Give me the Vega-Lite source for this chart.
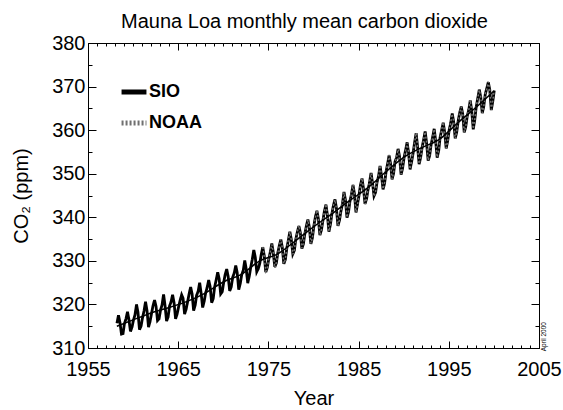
{
"$schema": "https://vega.github.io/schema/vega-lite/v6.json",
"width": 451, "height": 305,
"autosize": {"type": "none"},
"padding": {"left": 88, "top": 43, "right": 24, "bottom": 62},
"background": "white",
"config": {"font": "Liberation Sans", "view": {"stroke": "black", "strokeWidth": 1}, "axis": {"grid": false, "domain": false, "labelFont": "Liberation Sans", "labelColor": "black", "tickColor": "black", "titleColor": "black", "tickWidth": 1}},
"title": {"text": "Mauna Loa monthly mean carbon dioxide", "fontSize": 20, "fontWeight": "normal", "font": "Liberation Sans", "offset": 1, "dx": -9, "color": "black"},
"datasets": {
"sio": [
{"t":1958.21,"v":315.7},{"t":1958.38,"v":317.5},{"t":1958.54,"v":315.9},{"t":1958.71,"v":313.2},{"t":1958.88,"v":313.3},
{"t":1959.04,"v":315.6},{"t":1959.21,"v":316.7},{"t":1959.38,"v":318.3},{"t":1959.54,"v":316.5},{"t":1959.71,"v":313.8},{"t":1959.88,"v":314.8},
{"t":1960.04,"v":316.4},{"t":1960.21,"v":317.6},{"t":1960.38,"v":320.0},{"t":1960.54,"v":318.2},{"t":1960.71,"v":314.2},{"t":1960.88,"v":315.0},
{"t":1961.04,"v":316.9},{"t":1961.21,"v":318.5},{"t":1961.38,"v":320.6},{"t":1961.54,"v":318.6},{"t":1961.71,"v":314.8},{"t":1961.88,"v":316.1},
{"t":1962.04,"v":317.9},{"t":1962.21,"v":319.7},{"t":1962.38,"v":321.0},{"t":1962.54,"v":319.6},{"t":1962.71,"v":316.3},{"t":1962.88,"v":316.7},
{"t":1963.04,"v":318.7},{"t":1963.21,"v":319.9},{"t":1963.38,"v":322.3},{"t":1963.54,"v":319.7},{"t":1963.71,"v":316.2},{"t":1963.88,"v":317.1},
{"t":1964.04,"v":319.6},{"t":1964.21,"v":320.6},{"t":1964.38,"v":322.2},{"t":1964.54,"v":320.4},{"t":1964.71,"v":316.7},{"t":1964.88,"v":317.8},
{"t":1965.04,"v":319.4},{"t":1965.21,"v":320.9},{"t":1965.38,"v":322.2},{"t":1965.54,"v":321.4},{"t":1965.71,"v":317.8},{"t":1965.88,"v":318.9},
{"t":1966.04,"v":320.6},{"t":1966.21,"v":322.4},{"t":1966.38,"v":324.0},{"t":1966.54,"v":322.4},{"t":1966.71,"v":318.6},{"t":1966.88,"v":319.8},
{"t":1967.04,"v":322.1},{"t":1967.21,"v":323.0},{"t":1967.38,"v":325.0},{"t":1967.54,"v":322.6},{"t":1967.71,"v":319.3},{"t":1967.88,"v":320.7},
{"t":1968.04,"v":322.6},{"t":1968.21,"v":323.9},{"t":1968.38,"v":325.6},{"t":1968.54,"v":324.1},{"t":1968.71,"v":320.4},{"t":1968.88,"v":321.3},
{"t":1969.04,"v":324.0},{"t":1969.21,"v":325.6},{"t":1969.38,"v":327.4},{"t":1969.54,"v":325.9},{"t":1969.71,"v":322.4},{"t":1969.88,"v":322.9},
{"t":1970.04,"v":325.0},{"t":1970.21,"v":326.9},{"t":1970.38,"v":328.1},{"t":1970.54,"v":326.4},{"t":1970.71,"v":323.1},{"t":1970.88,"v":324.0},
{"t":1971.04,"v":326.2},{"t":1971.21,"v":327.2},{"t":1971.38,"v":328.9},{"t":1971.54,"v":327.3},{"t":1971.71,"v":323.4},{"t":1971.88,"v":324.8},
{"t":1972.04,"v":326.8},{"t":1972.21,"v":327.8},{"t":1972.38,"v":330.1},{"t":1972.54,"v":328.1},{"t":1972.71,"v":324.9},{"t":1972.88,"v":326.5},
{"t":1973.04,"v":328.5},{"t":1973.21,"v":330.3},{"t":1973.38,"v":332.5},{"t":1973.54,"v":330.9},{"t":1973.71,"v":327.5},{"t":1973.88,"v":328.2},
{"t":1974.04,"v":329.4},{"t":1974.21,"v":331.5},{"t":1974.38,"v":333.1},{"t":1974.54,"v":331.2},{"t":1974.71,"v":327.4},{"t":1974.88,"v":328.5},
{"t":1975.04,"v":330.4},{"t":1975.21,"v":332.0},{"t":1975.38,"v":334.0},{"t":1975.54,"v":331.9},{"t":1975.71,"v":328.6},{"t":1975.88,"v":329.5},
{"t":1976.04,"v":331.8},{"t":1976.21,"v":333.5},{"t":1976.38,"v":334.9},{"t":1976.54,"v":333.1},{"t":1976.71,"v":329.3},{"t":1976.88,"v":330.3},
{"t":1977.04,"v":332.9},{"t":1977.21,"v":334.7},{"t":1977.38,"v":336.7},{"t":1977.54,"v":334.9},{"t":1977.71,"v":331.6},{"t":1977.88,"v":332.4},
{"t":1978.04,"v":335.0},{"t":1978.21,"v":336.6},{"t":1978.38,"v":338.0},{"t":1978.54,"v":336.5},{"t":1978.71,"v":332.8},{"t":1978.88,"v":333.9},
{"t":1979.04,"v":336.2},{"t":1979.21,"v":338.0},{"t":1979.38,"v":339.5},{"t":1979.54,"v":337.7},{"t":1979.71,"v":333.9},{"t":1979.88,"v":335.3},
{"t":1980.04,"v":338.0},{"t":1980.21,"v":340.1},{"t":1980.38,"v":341.5},{"t":1980.54,"v":339.6},{"t":1980.71,"v":335.9},{"t":1980.88,"v":337.1},
{"t":1981.04,"v":339.2},{"t":1981.21,"v":341.4},{"t":1981.38,"v":342.9},{"t":1981.54,"v":340.5},{"t":1981.71,"v":336.7},{"t":1981.88,"v":338.4},
{"t":1982.04,"v":340.8},{"t":1982.21,"v":342.7},{"t":1982.38,"v":344.1},{"t":1982.54,"v":342.1},{"t":1982.71,"v":338.0},{"t":1982.88,"v":339.3},
{"t":1983.04,"v":341.4},{"t":1983.21,"v":343.1},{"t":1983.38,"v":345.8},{"t":1983.54,"v":344.0},{"t":1983.71,"v":339.9},{"t":1983.88,"v":341.2},
{"t":1984.04,"v":343.7},{"t":1984.21,"v":345.3},{"t":1984.38,"v":347.4},{"t":1984.54,"v":345.4},{"t":1984.71,"v":341.1},{"t":1984.88,"v":343.0},
{"t":1985.04,"v":345.0},{"t":1985.21,"v":347.4},{"t":1985.38,"v":348.9},{"t":1985.54,"v":346.6},{"t":1985.71,"v":343.1},{"t":1985.88,"v":344.2},
{"t":1986.04,"v":346.3},{"t":1986.21,"v":347.9},{"t":1986.38,"v":350.2},{"t":1986.54,"v":347.9},{"t":1986.71,"v":344.9},{"t":1986.88,"v":345.7},
{"t":1987.04,"v":348.0},{"t":1987.21,"v":349.4},{"t":1987.38,"v":351.8},{"t":1987.54,"v":349.5},{"t":1987.71,"v":346.4},{"t":1987.88,"v":347.8},
{"t":1988.04,"v":350.4},{"t":1988.21,"v":352.2},{"t":1988.38,"v":354.2},{"t":1988.54,"v":352.4},{"t":1988.71,"v":348.7},{"t":1988.88,"v":350.1},
{"t":1989.04,"v":352.8},{"t":1989.21,"v":353.7},{"t":1989.38,"v":355.7},{"t":1989.54,"v":353.9},{"t":1989.71,"v":349.8},{"t":1989.88,"v":351.3},
{"t":1990.04,"v":353.7},{"t":1990.21,"v":355.4},{"t":1990.38,"v":357.2},{"t":1990.54,"v":354.8},{"t":1990.71,"v":351.0},{"t":1990.88,"v":352.8},
{"t":1991.04,"v":354.7},{"t":1991.21,"v":357.2},{"t":1991.38,"v":359.3},{"t":1991.54,"v":356.2},{"t":1991.71,"v":352.2},{"t":1991.88,"v":353.8},
{"t":1992.04,"v":356.0},{"t":1992.21,"v":357.8},{"t":1992.38,"v":359.7},{"t":1992.54,"v":357.0},{"t":1992.71,"v":353.0},{"t":1992.88,"v":354.2},
{"t":1993.04,"v":356.7},{"t":1993.21,"v":358.4},{"t":1993.38,"v":360.3},{"t":1993.54,"v":357.6},{"t":1993.71,"v":353.7},{"t":1993.88,"v":355.3},
{"t":1994.04,"v":358.4},{"t":1994.21,"v":360.0},{"t":1994.38,"v":361.7},{"t":1994.54,"v":359.6},{"t":1994.71,"v":355.8},{"t":1994.88,"v":357.6},
{"t":1995.04,"v":360.0},{"t":1995.21,"v":361.6},{"t":1995.38,"v":363.8},{"t":1995.54,"v":361.9},{"t":1995.71,"v":358.1},{"t":1995.88,"v":359.6},
{"t":1996.04,"v":362.1},{"t":1996.21,"v":364.0},{"t":1996.38,"v":365.4},{"t":1996.54,"v":363.7},{"t":1996.71,"v":359.5},{"t":1996.88,"v":360.8},
{"t":1997.04,"v":363.2},{"t":1997.21,"v":364.6},{"t":1997.38,"v":366.8},{"t":1997.54,"v":364.5},{"t":1997.71,"v":360.2},{"t":1997.88,"v":362.4},
{"t":1998.04,"v":365.3},{"t":1998.21,"v":367.3},{"t":1998.38,"v":369.3},{"t":1998.54,"v":367.6},{"t":1998.71,"v":363.9},{"t":1998.88,"v":365.5},
{"t":1999.04,"v":368.2},{"t":1999.21,"v":369.6},{"t":1999.38,"v":371.0},{"t":1999.54,"v":369.3},{"t":1999.71,"v":364.6},{"t":1999.88,"v":366.7},
{"t":2000.04,"v":369.1}
],
"noaa": [
{"t":1974.38,"v":333.2},{"t":1974.54,"v":331.0},{"t":1974.71,"v":327.6},{"t":1974.88,"v":328.4},
{"t":1975.04,"v":330.5},{"t":1975.21,"v":332.1},{"t":1975.38,"v":333.8},{"t":1975.54,"v":332.0},{"t":1975.71,"v":328.4},{"t":1975.88,"v":329.6},
{"t":1976.04,"v":331.7},{"t":1976.21,"v":333.4},{"t":1976.38,"v":335.0},{"t":1976.54,"v":333.0},{"t":1976.71,"v":329.4},{"t":1976.88,"v":330.4},
{"t":1977.04,"v":333.0},{"t":1977.21,"v":334.8},{"t":1977.38,"v":336.6},{"t":1977.54,"v":334.8},{"t":1977.71,"v":331.5},{"t":1977.88,"v":332.5},
{"t":1978.04,"v":334.9},{"t":1978.21,"v":336.7},{"t":1978.38,"v":338.1},{"t":1978.54,"v":336.4},{"t":1978.71,"v":332.9},{"t":1978.88,"v":334.0},
{"t":1979.04,"v":336.3},{"t":1979.21,"v":337.9},{"t":1979.38,"v":339.4},{"t":1979.54,"v":337.8},{"t":1979.71,"v":334.0},{"t":1979.88,"v":335.2},
{"t":1980.04,"v":338.1},{"t":1980.21,"v":340.0},{"t":1980.38,"v":341.6},{"t":1980.54,"v":339.5},{"t":1980.71,"v":336.0},{"t":1980.88,"v":337.2},
{"t":1981.04,"v":339.3},{"t":1981.21,"v":341.3},{"t":1981.38,"v":343.0},{"t":1981.54,"v":340.6},{"t":1981.71,"v":336.8},{"t":1981.88,"v":338.3},
{"t":1982.04,"v":340.7},{"t":1982.21,"v":342.8},{"t":1982.38,"v":344.0},{"t":1982.54,"v":342.0},{"t":1982.71,"v":338.1},{"t":1982.88,"v":339.4},
{"t":1983.04,"v":341.5},{"t":1983.21,"v":343.2},{"t":1983.38,"v":345.7},{"t":1983.54,"v":343.9},{"t":1983.71,"v":340.0},{"t":1983.88,"v":341.3},
{"t":1984.04,"v":343.6},{"t":1984.21,"v":345.4},{"t":1984.38,"v":347.5},{"t":1984.54,"v":345.3},{"t":1984.71,"v":341.2},{"t":1984.88,"v":342.9},
{"t":1985.04,"v":345.1},{"t":1985.21,"v":347.3},{"t":1985.38,"v":349.0},{"t":1985.54,"v":346.5},{"t":1985.71,"v":343.0},{"t":1985.88,"v":344.3},
{"t":1986.04,"v":346.2},{"t":1986.21,"v":348.0},{"t":1986.38,"v":350.1},{"t":1986.54,"v":348.0},{"t":1986.71,"v":344.8},{"t":1986.88,"v":345.8},
{"t":1987.04,"v":348.1},{"t":1987.21,"v":349.5},{"t":1987.38,"v":351.9},{"t":1987.54,"v":349.4},{"t":1987.71,"v":346.5},{"t":1987.88,"v":347.9},
{"t":1988.04,"v":350.5},{"t":1988.21,"v":352.1},{"t":1988.38,"v":354.3},{"t":1988.54,"v":352.3},{"t":1988.71,"v":348.8},{"t":1988.88,"v":350.2},
{"t":1989.04,"v":352.7},{"t":1989.21,"v":353.8},{"t":1989.38,"v":355.6},{"t":1989.54,"v":353.8},{"t":1989.71,"v":349.9},{"t":1989.88,"v":351.4},
{"t":1990.04,"v":353.8},{"t":1990.21,"v":355.3},{"t":1990.38,"v":357.1},{"t":1990.54,"v":354.9},{"t":1990.71,"v":351.1},{"t":1990.88,"v":352.9},
{"t":1991.04,"v":354.8},{"t":1991.21,"v":357.1},{"t":1991.38,"v":359.4},{"t":1991.54,"v":356.1},{"t":1991.71,"v":352.3},{"t":1991.88,"v":353.7},
{"t":1992.04,"v":355.9},{"t":1992.21,"v":357.9},{"t":1992.38,"v":359.6},{"t":1992.54,"v":357.1},{"t":1992.71,"v":353.1},{"t":1992.88,"v":354.3},
{"t":1993.04,"v":356.8},{"t":1993.21,"v":358.3},{"t":1993.38,"v":360.2},{"t":1993.54,"v":357.7},{"t":1993.71,"v":353.8},{"t":1993.88,"v":355.4},
{"t":1994.04,"v":358.3},{"t":1994.21,"v":360.1},{"t":1994.38,"v":361.8},{"t":1994.54,"v":359.5},{"t":1994.71,"v":355.9},{"t":1994.88,"v":357.5},
{"t":1995.04,"v":360.1},{"t":1995.21,"v":361.7},{"t":1995.38,"v":363.7},{"t":1995.54,"v":362.0},{"t":1995.71,"v":358.0},{"t":1995.88,"v":359.7},
{"t":1996.04,"v":362.0},{"t":1996.21,"v":364.1},{"t":1996.38,"v":365.3},{"t":1996.54,"v":363.6},{"t":1996.71,"v":359.6},{"t":1996.88,"v":360.9},
{"t":1997.04,"v":363.3},{"t":1997.21,"v":364.5},{"t":1997.38,"v":366.9},{"t":1997.54,"v":364.4},{"t":1997.71,"v":360.3},{"t":1997.88,"v":362.5},
{"t":1998.04,"v":365.2},{"t":1998.21,"v":367.4},{"t":1998.38,"v":369.2},{"t":1998.54,"v":367.7},{"t":1998.71,"v":364.0},{"t":1998.88,"v":365.4},
{"t":1999.04,"v":368.3},{"t":1999.21,"v":369.5},{"t":1999.38,"v":371.1},{"t":1999.54,"v":369.2},{"t":1999.71,"v":364.7},{"t":1999.88,"v":366.8},
{"t":2000.04,"v":369.2}
],
"trend": [
{"t":1958.2,"v":315.0},{"t":1960,"v":316.45},{"t":1962,"v":318.05},{"t":1964,"v":319.3},{"t":1966,"v":320.7},{"t":1968,"v":322.6},{"t":1970,"v":325.15},{"t":1972,"v":326.9},{"t":1974,"v":329.95},{"t":1976,"v":331.55},{"t":1978,"v":334.6},{"t":1980,"v":337.8},{"t":1982,"v":340.75},{"t":1984,"v":343.8},{"t":1986,"v":346.75},{"t":1988,"v":350.4},{"t":1990,"v":353.75},{"t":1992,"v":356.0},{"t":1994,"v":357.95},{"t":1996,"v":361.7},{"t":1998,"v":365.2},{"t":2000,"v":369.0}
],
"note": [{"s": "April 2000"}]
},
"layer": [
{
"data": {"name": "sio"},
"mark": {"type": "line", "strokeWidth": 2.8},
"encoding": {
"x": {"field": "t", "type": "quantitative", "scale": {"domain": [1955, 2005], "nice": false, "zero": false},
 "axis": {"orient": "bottom", "values": [1955, 1965, 1975, 1985, 1995, 2005], "format": "d", "tickSize": -7, "labelPadding": 18, "labelFontSize": 20, "labelFlush": false, "title": "Year", "titleFontSize": 20, "titleFontWeight": "normal", "titlePadding": 9}},
"y": {"field": "v", "type": "quantitative", "scale": {"domain": [310, 380], "nice": false, "zero": false},
 "axis": {"orient": "left", "values": [310, 320, 330, 340, 350, 360, 370, 380], "tickSize": -8, "labelPadding": 11, "labelFontSize": 20, "labelFlush": false, "title": "CO₂ (ppm)", "titleFontSize": 20, "titleFontWeight": "normal", "titlePadding": 20}},
"color": {"datum": "SIO", "scale": {"domain": ["SIO", "NOAA"], "range": ["#000000", "#707070"]},
 "legend": {"title": null, "orient": "none", "legendX": 31, "legendY": 34, "padding": 0, "symbolType": "stroke", "symbolSize": 620, "symbolStrokeWidth": 5, "labelFontSize": 18, "labelFontWeight": "bold", "labelFont": "Liberation Sans", "labelColor": "black", "rowPadding": 6, "labelOffset": 0}},
"strokeDash": {"datum": "SIO", "scale": {"domain": ["SIO", "NOAA"], "range": [[1, 0], [2, 2]]},
 "legend": {"title": null, "orient": "none", "legendX": 31, "legendY": 34, "padding": 0, "symbolType": "stroke", "symbolSize": 620, "symbolStrokeWidth": 5, "labelFontSize": 18, "labelFontWeight": "bold", "labelFont": "Liberation Sans", "labelColor": "black", "rowPadding": 6, "labelOffset": 0}}
}
},
{
"data": {"name": "noaa"},
"mark": {"type": "line", "strokeWidth": 1.5},
"encoding": {
"x": {"field": "t", "type": "quantitative",
 "axis": {"orient": "bottom", "values": [1955,1956,1957,1958,1959,1960,1961,1962,1963,1964,1965,1966,1967,1968,1969,1970,1971,1972,1973,1974,1975,1976,1977,1978,1979,1980,1981,1982,1983,1984,1985,1986,1987,1988,1989,1990,1991,1992,1993,1994,1995,1996,1997,1998,1999,2000,2001,2002,2003,2004,2005], "tickSize": -3, "labels": false, "title": null}},
"y": {"field": "v", "type": "quantitative",
 "axis": {"orient": "left", "values": [315, 325, 335, 345, 355, 365, 375], "tickSize": -4, "labels": false, "title": null}},
"color": {"datum": "NOAA"},
"strokeDash": {"datum": "NOAA"}
}
},
{
"data": {"name": "trend"},
"mark": {"type": "line", "strokeWidth": 1.5, "color": "black", "interpolate": "monotone"},
"encoding": {
"x": {"field": "t", "type": "quantitative",
 "axis": {"orient": "top", "values": [1955, 1965, 1975, 1985, 1995, 2005], "tickSize": -7, "labels": false, "title": null}},
"y": {"field": "v", "type": "quantitative",
 "axis": {"orient": "right", "values": [310, 320, 330, 340, 350, 360, 370, 380], "tickSize": -8, "labels": false, "title": null}}
}
},
{
"data": {"name": "note"},
"mark": {"type": "text", "angle": 270, "fontSize": 6.5, "dy": 5, "align": "center", "baseline": "middle", "color": "black", "font": "Liberation Sans"},
"encoding": {
"x": {"datum": 2005, "type": "quantitative",
 "axis": {"orient": "top", "values": [1955,1956,1957,1958,1959,1960,1961,1962,1963,1964,1965,1966,1967,1968,1969,1970,1971,1972,1973,1974,1975,1976,1977,1978,1979,1980,1981,1982,1983,1984,1985,1986,1987,1988,1989,1990,1991,1992,1993,1994,1995,1996,1997,1998,1999,2000,2001,2002,2003,2004,2005], "tickSize": -3, "labels": false, "title": null}},
"y": {"datum": 312.6, "type": "quantitative",
 "axis": {"orient": "right", "values": [315, 325, 335, 345, 355, 365, 375], "tickSize": -4, "labels": false, "title": null}},
"text": {"field": "s"}
}
}
],
"resolve": {"axis": {"x": "independent", "y": "independent"}}
}
